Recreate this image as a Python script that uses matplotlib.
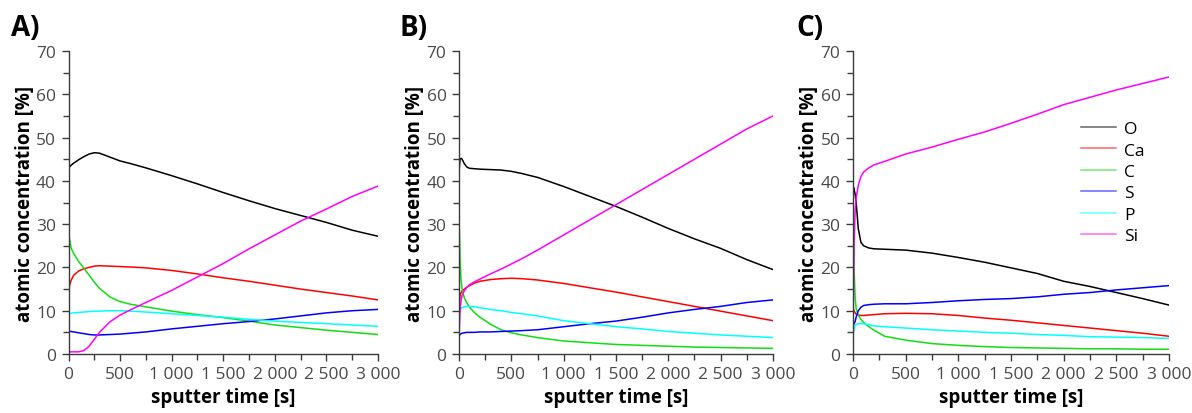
import matplotlib
matplotlib.use("Agg")
import matplotlib.pyplot as plt
from matplotlib.ticker import MultipleLocator, FuncFormatter

plt.rcParams['font.family'] = ['Open Sans', 'DejaVu Sans']

# ---------------- data ----------------
elements = ["O", "Ca", "C", "S", "P", "Si"]
colors = ["#000000", "#ff0000", "#11dd11", "#0000ff", "#00ffff", "#ff00ff"]

# Panel A
tA = [0, 25, 50, 100, 150, 200, 250, 300, 400, 500, 600, 750, 1000, 1250, 1500, 1750, 2000, 2250, 2500, 2750, 3000]
A_O = [43.0, 43.6, 44.1, 44.9, 45.6, 46.2, 46.5, 46.4, 45.5, 44.6, 44.0, 43.0, 41.2, 39.3, 37.3, 35.4, 33.6, 32.0, 30.4, 28.6, 27.2]
A_Ca = [15.0, 17.0, 18.2, 19.2, 19.7, 20.0, 20.3, 20.4, 20.3, 20.2, 20.1, 19.9, 19.3, 18.5, 17.6, 16.8, 15.9, 15.0, 14.2, 13.4, 12.5]
A_C = [28.0, 24.5, 23.2, 21.3, 19.8, 18.2, 16.6, 15.2, 13.2, 12.1, 11.5, 10.9, 9.9, 9.1, 8.4, 7.6, 6.7, 6.1, 5.5, 5.0, 4.5]
A_S = [5.3, 5.2, 5.1, 4.9, 4.7, 4.5, 4.4, 4.4, 4.5, 4.6, 4.8, 5.1, 5.8, 6.4, 7.0, 7.5, 8.1, 8.8, 9.5, 10.0, 10.3]
A_P = [9.3, 9.4, 9.5, 9.6, 9.7, 9.8, 9.9, 9.9, 10.0, 10.0, 9.9, 9.7, 9.3, 8.9, 8.5, 8.0, 7.6, 7.3, 7.0, 6.7, 6.4]
A_Si = [0.5, 0.5, 0.5, 0.5, 0.8, 1.8, 3.4, 5.0, 7.4, 9.0, 10.2, 11.9, 14.7, 17.8, 20.9, 24.3, 27.5, 30.7, 33.5, 36.4, 38.8]

# Panel B
tB = [0, 10, 20, 30, 50, 75, 100, 150, 200, 300, 400, 500, 600, 750, 1000, 1250, 1500, 1750, 2000, 2250, 2500, 2750, 3000]
B_O = [42.0, 45.0, 45.2, 45.0, 44.0, 43.2, 42.9, 42.8, 42.7, 42.6, 42.5, 42.2, 41.7, 40.8, 38.7, 36.4, 34.1, 31.6, 29.0, 26.6, 24.4, 21.8, 19.5]
B_Ca = [10.0, 13.5, 14.2, 14.6, 15.0, 15.4, 15.8, 16.4, 16.8, 17.2, 17.4, 17.5, 17.4, 17.1, 16.3, 15.3, 14.3, 13.2, 12.1, 11.0, 9.9, 8.8, 7.7]
B_C = [32.0, 22.0, 17.0, 15.0, 13.0, 11.8, 10.8, 9.5, 8.5, 6.9, 5.6, 4.9, 4.4, 3.8, 3.0, 2.6, 2.2, 2.0, 1.8, 1.6, 1.5, 1.4, 1.3]
B_S = [4.2, 4.5, 4.7, 4.8, 4.9, 5.0, 5.0, 5.0, 5.1, 5.1, 5.2, 5.3, 5.4, 5.6, 6.3, 7.0, 7.6, 8.5, 9.5, 10.3, 11.0, 11.9, 12.5]
B_P = [9.5, 10.2, 10.5, 10.7, 10.9, 11.0, 11.0, 10.9, 10.7, 10.3, 10.0, 9.6, 9.3, 8.8, 7.7, 7.0, 6.3, 5.8, 5.2, 4.8, 4.4, 4.1, 3.8]
B_Si = [4.0, 10.0, 12.5, 13.5, 14.6, 15.4, 16.0, 16.7, 17.3, 18.5, 19.6, 20.8, 22.0, 24.0, 27.5, 31.0, 34.5, 38.0, 41.5, 45.0, 48.5, 52.0, 55.0]

# Panel C
tC = [0, 5, 10, 20, 30, 50, 75, 100, 150, 200, 300, 500, 750, 1000, 1250, 1500, 1750, 2000, 2250, 2500, 2750, 3000]
C_O = [36.0, 38.5, 38.0, 37.0, 35.0, 29.0, 25.8, 25.0, 24.5, 24.3, 24.2, 24.0, 23.3, 22.3, 21.2, 19.9, 18.6, 16.8, 15.6, 14.2, 12.8, 11.3]
C_Ca = [10.5, 10.3, 10.0, 9.5, 9.2, 9.0, 8.9, 8.9, 9.0, 9.1, 9.3, 9.4, 9.3, 8.9, 8.3, 7.8, 7.2, 6.6, 6.0, 5.4, 4.8, 4.1]
C_C = [41.0, 30.0, 20.0, 13.0, 10.5, 9.0, 8.0, 7.3, 6.3, 5.5, 4.1, 3.2, 2.4, 2.0, 1.7, 1.5, 1.4, 1.3, 1.2, 1.2, 1.1, 1.1]
C_S = [6.5, 6.8, 7.0, 7.5, 8.5, 10.0, 10.8, 11.2, 11.4, 11.5, 11.6, 11.6, 11.9, 12.3, 12.6, 12.8, 13.2, 13.8, 14.2, 14.8, 15.3, 15.8]
C_P = [4.0, 5.0, 5.8, 6.5, 6.8, 7.0, 7.0, 7.0, 6.8, 6.5, 6.3, 6.0, 5.6, 5.3, 5.0, 4.8, 4.5, 4.3, 4.0, 3.9, 3.8, 3.6]
C_Si = [5.0, 15.0, 25.0, 33.0, 36.0, 39.0, 41.0, 42.0, 43.0, 43.7, 44.5, 46.2, 47.8, 49.6, 51.3, 53.3, 55.4, 57.6, 59.3, 61.0, 62.5, 64.0]

panel_labels = ["A)", "B)", "C)"]
x_label = "sputter time [s]"
y_label = "atomic concentration [%]"

panels = [
    (tA, [A_O, A_Ca, A_C, A_S, A_P, A_Si]),
    (tB, [B_O, B_Ca, B_C, B_S, B_P, B_Si]),
    (tC, [C_O, C_Ca, C_C, C_S, C_P, C_Si]),
]

# ---------------- figure ----------------
fig = plt.figure(figsize=(11.92, 4.14), dpi=100)
W, H = 1192, 414
boxes = [(68.5, 378), (459, 773), (853, 1169)]
top_px, bot_px = 52, 355
label_x = [11, 400, 796]

tick_color = "#4a4a4a"
spine_color = "#3a3a3a"

axes = []
for i, ((t, series), (l, r)) in enumerate(zip(panels, boxes)):
    ax = fig.add_axes([l / W, 1 - bot_px / H, (r - l) / W, (bot_px - top_px) / H])
    for name, vals, c in zip(elements, series, colors):
        ax.plot(t, vals, color=c, lw=1.1, label=name)
    ax.set_xlim(0, 3000)
    ax.set_ylim(0, 70)
    ax.xaxis.set_major_locator(MultipleLocator(500))
    ax.xaxis.set_minor_locator(MultipleLocator(250))
    ax.yaxis.set_major_locator(MultipleLocator(10))
    ax.yaxis.set_minor_locator(MultipleLocator(5))
    ax.xaxis.set_major_formatter(FuncFormatter(lambda v, p: f"{int(round(v)):,}".replace(",", " ")))
    for s in ["top", "right"]:
        ax.spines[s].set_visible(False)
    for s in ["left", "bottom"]:
        ax.spines[s].set_color(spine_color)
        ax.spines[s].set_linewidth(1.0)
    ax.tick_params(which="major", direction="out", length=5, width=1.0, color=spine_color,
                   labelsize=12.5, labelcolor=tick_color, pad=4)
    ax.tick_params(which="minor", direction="out", length=4, width=1.0, color=spine_color)
    ax.set_xlabel(x_label, fontsize=13.5, fontweight="bold", labelpad=3)
    ax.set_ylabel(y_label, fontsize=13.5, fontweight="bold", labelpad=1)
    fig.text(label_x[i] / W, 1 - 29 / H, panel_labels[i], fontsize=20, fontweight="bold",
             va="center", ha="left")
    axes.append(ax)

leg = axes[2].legend(loc="upper left", bbox_to_anchor=(1081 / W, 1 - 122 / H),
                     bbox_transform=fig.transFigure, frameon=False, fontsize=12.5,
                     handlelength=2.0, handletextpad=0.5, labelspacing=0.3, borderpad=0,
                     borderaxespad=0)
for h in leg.get_lines():
    h.set_alpha(0.6)

fig.savefig("out.png", dpi=100)
